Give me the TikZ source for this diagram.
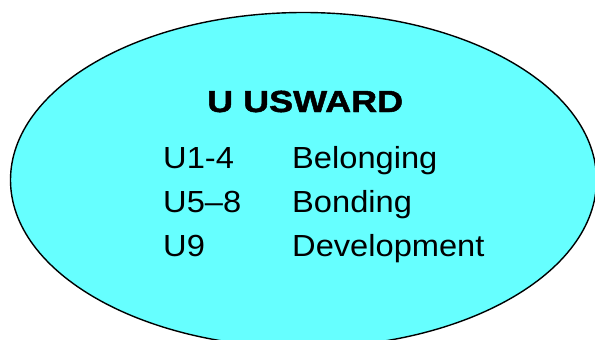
\documentclass[tikz,border=0pt]{standalone}
\usepackage{fontspec}
\setmainfont{Liberation Sans}[FakeStretch=1.07]
\newfontfamily\titlefont{Liberation Sans}[FakeStretch=1.18,FakeBold=1.6]
\definecolor{cyanfill}{HTML}{66FFFF}
\begin{document}
\begin{tikzpicture}[x=1pt,y=-1pt,
  txt/.style={anchor=base west,inner sep=0pt,font=\fontsize{30.5}{36}\selectfont},
  ttl/.style={anchor=base west,inner sep=0pt,font=\titlefont\bfseries\fontsize{30.5}{36}\selectfont}]
\useasboundingbox (0,0) rectangle (595,340);
\clip (0,0) rectangle (595,340);
\fill[white] (0,0) rectangle (595,340);
\draw[fill=cyanfill,line width=1.4pt] (303.5,180) ellipse [x radius=293,y radius=167.5];
\node[ttl] (title) at (207,112) {U USWARD};
\node[txt] (u1) at (163,168) {U1-4};
\node[txt] (b1) at (292,168) {Belonging};
\node[txt] (u2) at (163,212) {U5--8};
\node[txt] (b2) at (292,212) {Bonding};
\node[txt] (u3) at (163,256) {U9};
\node[txt] (b3) at (292,256) {Development};
\end{tikzpicture}
\end{document}
